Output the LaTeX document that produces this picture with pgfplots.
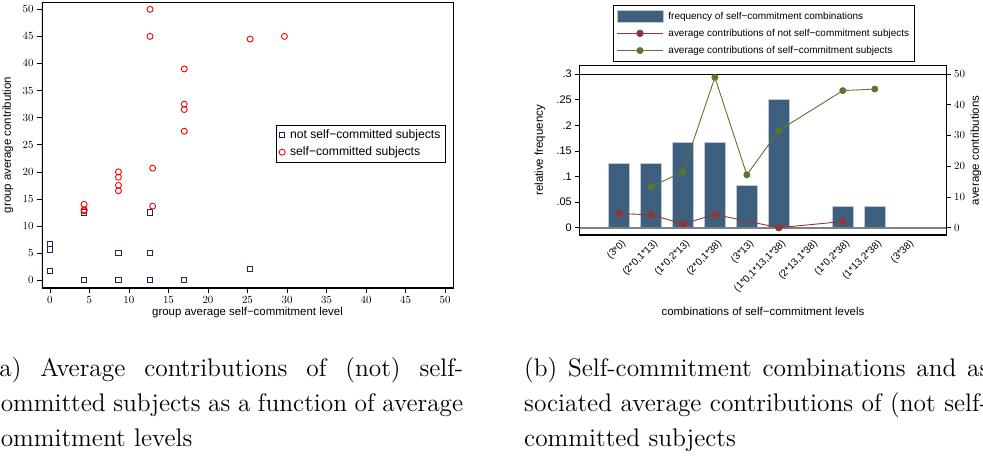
\documentclass[border=0pt]{standalone}
\usepackage{fontspec}
\usepackage{pgfplots}
\pgfplotsset{compat=1.18}
\newfontfamily\chartfont{Liberation Sans}
\newfontfamily\capfont{lmroman12-regular.otf}
\newcommand\fs[1]{\chartfont\fontsize{#1}{#1}\selectfont}
\definecolor{snavy}{RGB}{26,46,90}
\definecolor{sbar}{RGB}{62,96,126}
\definecolor{scran}{RGB}{144,53,59}
\definecolor{sgreen}{RGB}{90,120,45}
\pgfplotsset{
    longline legend/.style={legend image code/.code={\draw[mark repeat=2,mark phase=2,##1]
        plot coordinates {(0bp,0bp) (23bp,0bp) (46bp,0bp)};}},
    longbar legend/.style={legend image code/.code={\draw[##1] (0bp,-6bp) rectangle (46bp,6bp);}},
}
\begin{document}
\begin{tikzpicture}
\useasboundingbox (0,0) rectangle (983bp,-460bp);

% (a) scatter
\begin{axis}[
    at={(42bp,-288bp)},anchor=south west,
    width=411bp,height=286bp,scale only axis,
    xmin=-1,xmax=51,ymin=-1.45,ymax=51.35,
    xtick={0,5,...,50},ytick={0,5,...,50},
    xtick pos=lower,ytick pos=left,tick align=outside,
    major tick length=5bp,
    tick style={black,line width=0.6bp},
    axis line style={line width=0.6bp},
    tick label style={font=\fs{11.3}},
    label style={font=\fs{11.5}},
    xlabel={group average self−commitment level},
    ylabel={group average contribution},
    xlabel style={at={(rel axis cs:0.5,-0.0874)},anchor=center},
    ylabel style={at={(rel axis cs:-0.0827,0.5)},anchor=center},
    legend style={at={(rel axis cs:0.569,0.57)},anchor=north west,
        font=\fs{12.2},draw=black,line width=0.6bp,row sep=3bp,
        inner ysep=2.5bp,column sep=3bp},
    legend cell align=left,
]
\addplot[only marks,mark=square,mark size=2.6bp,snavy,line width=0.9bp]
    coordinates {
        (0,6.67) (0,5.67) (0,1.67)
        (4.33,12.5) (4.33,0)
        (8.67,5) (8.67,0)
        (12.67,12.5) (12.67,5) (12.67,0)
        (17,0) (25.33,2)
    };
\addplot[only marks,mark=o,mark size=3bp,red,line width=0.9bp]
    coordinates {
        (4.33,14) (4.33,13) (4.33,12.8)
        (8.67,20) (8.67,19) (8.67,17.5) (8.67,16.5)
        (13,20.67) (13,13.67)
        (12.67,50) (12.67,45)
        (17,39) (17,32.5) (17,31.5) (17,27.5)
        (25.33,44.5) (29.67,45)
    };
\legend{not self−committed subjects,self−committed subjects}
\draw[line width=1.2bp] (rel axis cs:0,1) -- (rel axis cs:0,0) -- (rel axis cs:1,0);
\end{axis}

% (b) bars, left scale
\begin{axis}[
    at={(579.3bp,-235bp)},anchor=south west,
    width=367.4bp,height=169.3bp,scale only axis,
    xmin=-0.24,xmax=11.25,ymin=-0.0143,ymax=0.3162,
    xtick={1,...,10},
    xticklabels={(3*0),{(2*0,1*13)},{(1*0,2*13)},{(2*0,1*38)},(3*13),
        {(1*0,1*13,1*38)},{(2*13,1*38)},{(1*0,2*38)},{(1*13,2*38)},(3*38)},
    xtick style={draw=none},
    xticklabel style={font=\fs{10},rotate=45,anchor=east,xshift=5bp,yshift=-6bp},
    ytick={0,0.05,0.1,0.15,0.2,0.25,0.3},
    yticklabels={0,.05,.1,.15,.2,.25,.3},
    yticklabel style={font=\fs{11}},
    xtick pos=lower,ytick pos=left,tick align=outside,
    major tick length=4bp,
    tick style={black,line width=0.6bp},
    axis line style={line width=0.6bp},
    label style={font=\fs{11.5}},
    xlabel={combinations of self−commitment levels},
    ylabel={relative frequency},
    xlabel style={at={(rel axis cs:0.5,-0.453)},anchor=center},
    ylabel style={at={(rel axis cs:-0.107,0.5)},anchor=center},
]
\addplot[ybar,bar width=20.3bp,fill=sbar,draw=sbar!35!white,line width=0.7bp]
    coordinates {
        (1,0.125) (2,0.125) (3,0.1667) (4,0.1667) (5,0.0833)
        (6,0.25) (7,0) (8,0.0417) (9,0.0417) (10,0)
    };
\addplot[gray,line width=2bp] coordinates {(-0.24,0) (11.25,0)};
\addplot[black,line width=0.8bp] coordinates {(-0.24,0.3) (11.25,0.3)};
\draw[line width=1.2bp] (rel axis cs:0,1) -- (rel axis cs:0,0) -- (rel axis cs:1,0) -- (rel axis cs:1,1);
\end{axis}

% (b) lines, right scale
\begin{axis}[
    at={(579.3bp,-235bp)},anchor=south west,
    width=367.4bp,height=169.3bp,scale only axis,
    xmin=-0.24,xmax=11.25,ymin=-2.38,ymax=52.7,
    axis x line=none,axis y line*=right,
    ytick={0,10,...,50},
    yticklabel style={font=\fs{11}},
    tick align=outside,major tick length=4bp,
    tick style={black,line width=0.6bp},
    axis line style={line width=0.6bp},
    label style={font=\fs{11.5}},
    ylabel={average contributions},
    ylabel style={at={(rel axis cs:1.0797,0.5)},anchor=center},
    legend style={at={(rel axis cs:0.0925,1.3585)},anchor=north west,
        font=\fs{10},draw=black,line width=0.6bp,row sep=4.5bp,
        inner ysep=4.5bp,column sep=3bp},
    legend cell align=left,
]
\addlegendimage{fill=sbar,draw=sbar!35!white,longbar legend}
\addplot[scran,line width=0.9bp,mark=*,mark size=3.2bp,mark options={fill=scran},
    longline legend]
    coordinates {
        (1,4.6) (2,4.2) (3,1.25) (4,4.3) (6,0) (8,2)
    };
\addplot[sgreen,line width=0.9bp,mark=*,mark size=3bp,mark options={fill=sgreen},
    longline legend]
    coordinates {
        (2,13.3) (3,18.2) (4,48.9) (5,17.2) (6,31.6) (8,44.6) (9,45.1)
    };
\legend{frequency of self−commitment combinations,
    average contributions of not self−commitment subjects,
    average contributions of self−commitment subjects}
\end{axis}

% captions
\node[anchor=north west,inner sep=0pt,text width=473.5bp,align=justify,
    font=\capfont\fontsize{25.5}{35.3}\selectfont] at (-10.5bp,-357bp)
    {(a) Average contributions of (not) self-\linebreak committed subjects
    as a function of average\linebreak commitment levels};
\node[anchor=north west,inner sep=0pt,text width=473.5bp,align=justify,
    font=\capfont\fontsize{25.5}{35.3}\selectfont] at (524bp,-357bp)
    {(b) Self-commitment combinations and as-\linebreak sociated average
    contributions of (not self-)\linebreak committed subjects};
\end{tikzpicture}
\end{document}
